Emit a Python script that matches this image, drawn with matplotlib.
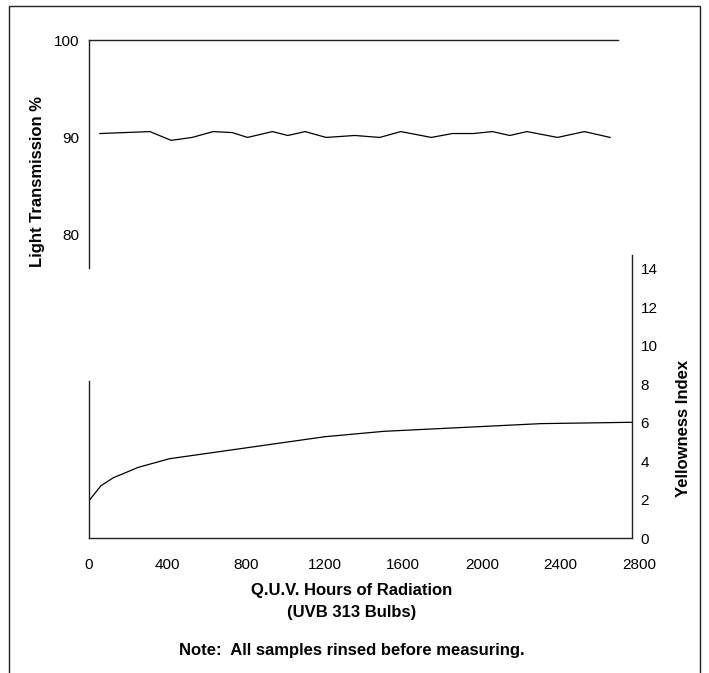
import matplotlib
matplotlib.use("Agg")
import matplotlib.pyplot as plt
from matplotlib.patches import Rectangle

plt.rcParams['font.family'] = ['Liberation Sans', 'DejaVu Sans']

# light transmission (top panel)
lt_hours = [55, 310, 418, 525, 632, 729, 807, 934, 1012, 1100, 1207, 1353,
            1480, 1587, 1743, 1850, 1957, 2054, 2142, 2230, 2385, 2522, 2653]
lt_values = [90.4, 90.6, 89.7, 90.0, 90.6, 90.5, 90.0, 90.6, 90.2, 90.6, 90.0, 90.2,
             90.0, 90.6, 90.0, 90.4, 90.4, 90.6, 90.2, 90.6, 90.0, 90.6, 90.0]

# yellowness index (bottom panel)
yi_hours = [0, 60, 125, 185, 250, 410, 1200, 1500, 2000, 2300, 2765]
yi_values = [1.95, 2.72, 3.15, 3.40, 3.68, 4.13, 5.27, 5.55, 5.80, 5.95, 6.02]

x_ticks = [0, 400, 800, 1200, 1600, 2000, 2400, 2800]
lt_ticks = [80, 90, 100]
yi_ticks = [0, 2, 4, 6, 8, 10, 12, 14]

W, H = 709, 673
fig = plt.figure(figsize=(W / 100, H / 100), dpi=100)


def box(l, t, r, b):
    return [l / W, 1 - b / H, (r - l) / W, (b - t) / H]


fs = 11
lfs = 12
dark = '#222222'

# top panel
ax1 = fig.add_axes(box(89, 40, 639, 268))
ax1.plot(lt_hours, lt_values, color='black', lw=0.9)
ax1.set_xlim(0, 2800)
ax1.set_ylim(76.6, 100)
for s in ['right', 'bottom']:
    ax1.spines[s].set_visible(False)
ax1.spines['top'].set_bounds(0, 2692)
for s in ['left', 'top']:
    ax1.spines[s].set_color(dark)
    ax1.spines[s].set_linewidth(1.0)
ax1.set_xticks([])
ax1.set_yticks(lt_ticks)
ax1.tick_params(axis='y', length=0, pad=7, labelsize=fs)
ax1.patch.set_visible(False)

# bottom panel
ax2 = fig.add_axes(box(89, 255, 639, 538.3))
ax2.plot(yi_hours, yi_values, color='black', lw=0.9)
ax2.set_xlim(0, 2800)
ax2.set_ylim(0, 14.7)
ax2.spines['top'].set_visible(False)
ax2.spines['right'].set_position(('data', 2765))
ax2.spines['left'].set_bounds(0, 8.17)
ax2.spines['bottom'].set_bounds(0, 2765)
for s in ['left', 'right', 'bottom']:
    ax2.spines[s].set_color(dark)
    ax2.spines[s].set_linewidth(1.0)
ax2.yaxis.tick_right()
ax2.set_yticks(yi_ticks)
ax2.set_xticks(x_ticks)
ax2.tick_params(axis='y', length=0, pad=6, labelsize=fs)
ax2.tick_params(axis='x', length=0, pad=14, labelsize=fs)
ax2.patch.set_visible(False)

# axis titles and notes
fig.text(38 / W, 1 - 182 / H, 'Light Transmission %', rotation=90, ha='center',
         va='center', fontsize=lfs, fontweight='bold')
fig.text(683 / W, 1 - 428 / H, 'Yellowness Index', rotation=90, ha='center',
         va='center', fontsize=lfs, fontweight='bold')
fig.text(352 / W, 1 - 591 / H, 'Q.U.V. Hours of Radiation', ha='center',
         va='center', fontsize=lfs, fontweight='bold')
fig.text(352 / W, 1 - 613 / H, '(UVB 313 Bulbs)', ha='center',
         va='center', fontsize=lfs, fontweight='bold')
fig.text(352 / W, 1 - 650 / H, 'Note:  All samples rinsed before measuring.',
         ha='center', va='center', fontsize=lfs, fontweight='bold')

# outer frame, open at the bottom
fig.patches.append(Rectangle((9 / W, -0.05), (700 - 9) / W, 1.05 - 6 / H,
                             transform=fig.transFigure, fill=False,
                             edgecolor=dark, lw=1.0))

fig.savefig('out.png', dpi=100)
